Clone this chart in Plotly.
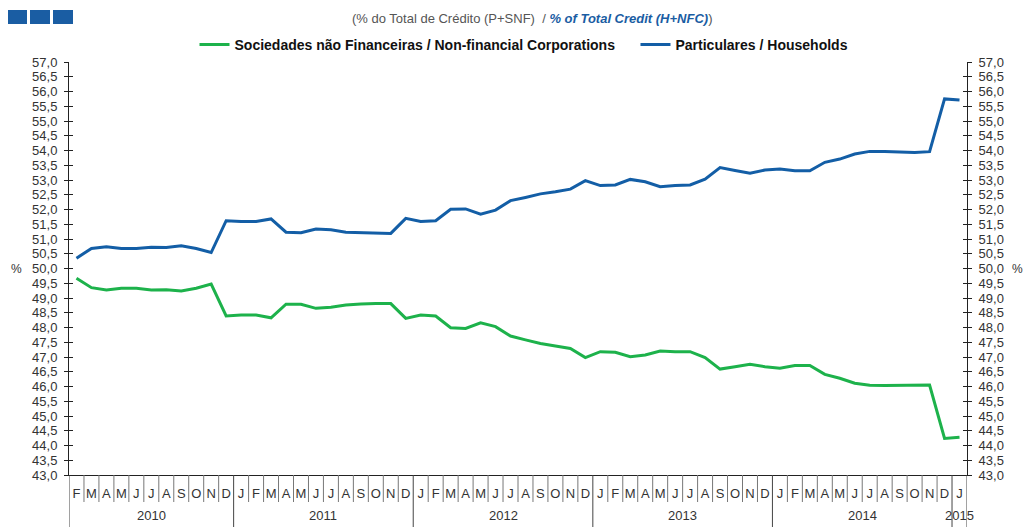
import plotly.graph_objects as go

# monthly series, Feb 2010 .. Jan 2015 (% of total credit)
months = ["F", "M", "A", "M", "J", "J", "A", "S", "O", "N", "D"] + \
         ["J", "F", "M", "A", "M", "J", "J", "A", "S", "O", "N", "D"] * 4 + ["J"]
years = ["2010", "2011", "2012", "2013", "2014", "2015"]
year_start = [0, 11, 23, 35, 47, 59]  # index of first month of each year

households = [
    50.35, 50.68, 50.74, 50.68, 50.68, 50.72, 50.71, 50.77, 50.68, 50.54,
    51.62, 51.59, 51.59, 51.68, 51.23, 51.21, 51.34, 51.31, 51.23, 51.21,
    51.19, 51.19, 51.70, 51.59, 51.62, 52.01, 52.02, 51.84, 51.98, 52.30,
    52.41, 52.53, 52.60, 52.69, 52.98, 52.81, 52.83, 53.02, 52.94, 52.77,
    52.81, 52.83, 53.03, 53.42, 53.32, 53.23, 53.34, 53.37, 53.31, 53.31,
    53.60, 53.71, 53.88, 53.97, 53.97, 53.96, 53.93, 53.96, 55.75, 55.71,
]
nfc = [
    49.67, 49.35, 49.27, 49.33, 49.33, 49.27, 49.28, 49.24, 49.33, 49.47,
    48.39, 48.42, 48.42, 48.33, 48.79, 48.79, 48.65, 48.69, 48.76, 48.80,
    48.81, 48.81, 48.31, 48.42, 48.39, 47.99, 47.97, 48.16, 48.03, 47.71,
    47.58, 47.46, 47.37, 47.29, 46.98, 47.18, 47.16, 47.01, 47.07, 47.20,
    47.18, 47.18, 46.98, 46.59, 46.67, 46.75, 46.67, 46.62, 46.71, 46.71,
    46.41, 46.28, 46.11, 46.04, 46.03, 46.04, 46.05, 46.05, 44.24, 44.28,
]

GREEN = "#1db24b"
BLUE = "#135ea6"
TXT = "#333333"
FONT = "Liberation Sans, Arial, sans-serif"

W, H = 1024, 527
ML, MR, MT, MB = 69, 57, 62, 52
PW, PH = W - ML - MR, H - MT - MB


def px(x):
    return (x - ML) / PW


def py(y):
    return (H - MB - y) / PH


n = len(months)
xs = list(range(n))

fig = go.Figure()
fig.add_trace(go.Scatter(x=xs, y=nfc, mode="lines",
                         name="Sociedades não Financeiras / Non-financial Corporations\u00a0\u00a0\u00a0\u00a0",
                         line=dict(color=GREEN, width=3)))
fig.add_trace(go.Scatter(x=xs, y=households, mode="lines", name="Particulares / Households",
                         line=dict(color=BLUE, width=3)))
# invisible carriers so the extra (tick-only / right-hand) y axes get drawn
for ax in ("y2", "y3", "y4"):
    fig.add_trace(go.Scatter(x=xs, y=households, yaxis=ax, mode="lines", line=dict(color="rgba(0,0,0,0)"),
                             hoverinfo="skip", showlegend=False))

yax = dict(range=[43, 57], dtick=0.5, tick0=43, tickformat=".1f", showgrid=False, zeroline=False,
           tickcolor="#222", ticklen=4, tickwidth=1, tickfont=dict(size=13, color=TXT, family=FONT))

shapes = []
# month separators
for b in range(n + 1):
    long_ = b in year_start or b == n
    shapes.append(dict(type="line", xref="x", yref="paper", x0=b - 0.5, x1=b - 0.5,
                       y0=0, y1=py(H) if long_ else py(502),
                       line=dict(color="#444" if long_ else "#777", width=1)))
# blue squares top-left
for x0, x1 in [(8, 27), (30, 50), (53, 73)]:
    shapes.append(dict(type="rect", xref="paper", yref="paper", x0=px(x0), x1=px(x1),
                       y0=py(24), y1=py(10), fillcolor="#1a5da3", line=dict(width=0)))

annotations = []
for yr, s in zip(years, year_start):
    e = next((t for t in year_start if t > s), n)
    annotations.append(dict(x=(s + e - 1) / 2, y=py(515), xref="x", yref="paper", text=yr, showarrow=False,
                            font=dict(size=13, color=TXT, family=FONT), yanchor="middle"))
annotations.append(dict(x=px(9), y=50, xref="paper", yref="y", text="%", showarrow=False, xanchor="left",
                        font=dict(size=12, color=TXT, family=FONT), yanchor="middle"))
annotations.append(dict(x=px(1025), y=50, xref="paper", yref="y", text="%", showarrow=False, xanchor="right",
                        font=dict(size=12, color=TXT, family=FONT), yanchor="middle"))
annotations.append(dict(
    x=px(532), y=py(18), xref="paper", yref="paper", showarrow=False, yanchor="middle",
    text="(% do Total de Crédito (P+SNF)  / <span style='color:#1a5da3'><b><i>% of Total Credit (H+NFC)</i></b></span>)",
    font=dict(size=13, color="#555", family=FONT)))

fig.update_layout(
    width=W, height=H, autosize=False,
    margin=dict(l=ML, r=MR, t=MT, b=MB),
    plot_bgcolor="white", paper_bgcolor="white",
    font=dict(family=FONT, color=TXT),
    separators=",.",
    showlegend=True,
    legend=dict(orientation="h", x=px(524), xanchor="center", y=py(45), yanchor="middle",
                font=dict(size=14, color="#111", family=FONT, weight="bold"), itemwidth=30,
                bgcolor="rgba(0,0,0,0)"),
    xaxis=dict(range=[-0.5, n - 0.5], showgrid=False, zeroline=False, showline=True, linecolor="#222",
               tickvals=xs, ticktext=months, ticks="", ticklabelstandoff=6,
               tickfont=dict(size=13, color=TXT, family=FONT)),
    yaxis=dict(side="left", showline=True, linecolor="#222", ticks="outside", ticklabelstandoff=4, **yax),
    yaxis3=dict(side="left", overlaying="y", anchor="x", ticks="inside", showticklabels=False, **yax),
    yaxis2=dict(side="right", overlaying="y", anchor="x", showline=True, linecolor="#222",
                ticks="outside", ticklabelstandoff=4, **yax),
    yaxis4=dict(side="right", overlaying="y", anchor="x", ticks="inside", showticklabels=False, **yax),
    shapes=shapes,
    annotations=annotations,
)

fig.write_html("out.html", config=dict(displayModeBar=False),
               post_script="document.body.style.margin='0';document.body.style.overflow='hidden';")
